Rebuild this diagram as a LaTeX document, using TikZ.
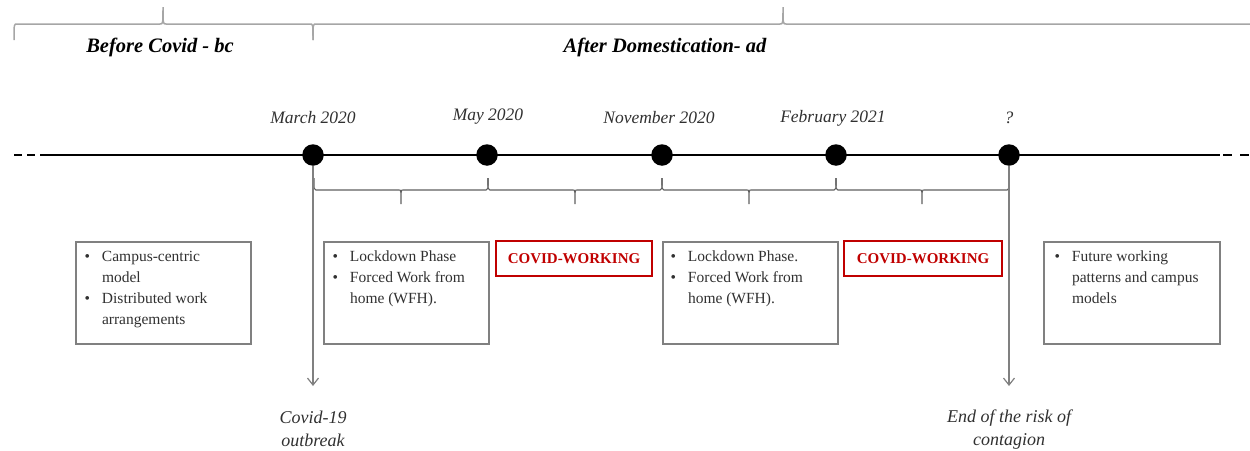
\documentclass[tikz,border=0pt]{standalone}
\usepackage{fontspec}
\setmainfont{Liberation Serif}
\usetikzlibrary{arrows.meta}
\definecolor{cvred}{HTML}{C00000}
\definecolor{boxgray}{HTML}{808080}
\definecolor{txtgray}{HTML}{303030}
\definecolor{topgray}{HTML}{A6A6A6}
\definecolor{lowgray}{HTML}{606060}
\newcommand\tlbrace[8]{%
  \draw[#1] (#2,#5) .. controls (#2,#6) .. ({#2+#8},#6) -- ({#3-#8},#6)
    .. controls (#3,#6) .. (#3,#7) .. controls (#3,#6) .. ({#3+#8},#6)
    -- ({#4-#8},#6) .. controls (#4,#6) .. (#4,#5);}
\newcommand\bul{\makebox[17.5pt][l]{\textbullet}}
\newcommand\ind{\hspace*{17.5pt}}
\tikzset{
  dot/.style={circle, fill=black, minimum size=21.5pt, inner sep=0pt},
  datelbl/.style={font=\fontsize{17.5}{21}\selectfont\itshape, text=txtgray, inner sep=0pt},
  titlelbl/.style={font=\fontsize{20.5}{24}\selectfont\bfseries\itshape, inner sep=0pt},
  infobox/.style={draw=boxgray, line width=1.5pt, minimum width=#1, minimum height=102pt, anchor=north west, inner sep=0pt},
  infotext/.style={anchor=north west, inner sep=0pt, text=txtgray, font=\fontsize{15.5}{21}\selectfont},
  cvbox/.style={draw=cvred, line width=1.5pt, text=cvred, font=\fontsize{15}{18}\selectfont\bfseries, minimum height=35pt, minimum width=#1, inner sep=0pt},
  arr/.style={draw=gray, line width=1.2pt, -{Straight Barb[length=7pt,width=11pt]}},
  notelbl/.style={font=\fontsize{18}{23}\selectfont\itshape, align=center, text=txtgray, inner sep=0pt},
  timeline/.style={line width=2.8pt, black},
  topbrace/.style={draw=topgray, line width=1.5pt},
  lowbrace/.style={draw=lowgray, line width=1.1pt}
}
\begin{document}
\begin{tikzpicture}[x=1pt, y=-1pt]
\useasboundingbox (0,0) rectangle (1250,450);

% top braces and titles
\tlbrace{topbrace}{14}{163}{313}{40}{24}{7}{3}
\tlbrace{topbrace}{313}{783}{1253}{40}{24}{7}{3}
\node[titlelbl] (tbc) at (160,47) {Before Covid - bc};
\node[titlelbl] (tad) at (665,47) {After Domestication- ad};

% timeline
\coordinate (tl0) at (14,155);
\coordinate (tl1) at (42,155);
\coordinate (tl2) at (1220,155);
\coordinate (tl3) at (1250,155);
\draw[timeline, dash pattern=on 8pt off 5pt] (tl0) -- (tl1);
\draw[timeline] (tl1) -- (tl2);
\draw[timeline, dash pattern=on 0pt off 3pt on 9pt off 5pt] (tl2) -- (tl3);

% lower braces
\tlbrace{lowbrace}{314}{401}{488}{178}{190}{204}{2}
\tlbrace{lowbrace}{488}{575}{662}{178}{190}{204}{2}
\tlbrace{lowbrace}{662}{749}{836}{178}{190}{204}{2}
\tlbrace{lowbrace}{836}{922}{1009}{178}{190}{204}{2}

% dots and dates
\node[dot] (d1) at (313,155) {};
\node[dot] (d2) at (487,155) {};
\node[dot] (d3) at (662,155) {};
\node[dot] (d4) at (836,155) {};
\node[dot] (d5) at (1009,155) {};
\node[datelbl] (l1) at (313,118) {March 2020};
\node[datelbl] (l2) at (488,117) {May 2020};
\node[datelbl] (l3) at (659,118) {November 2020};
\node[datelbl] (l4) at (833,118) {February 2021};
\node[datelbl] (l5) at (1009,118) {?};

% arrows and notes
\coordinate (e1) at (313,386);
\coordinate (e5) at (1009,386);
\draw[arr] (d1) -- (e1);
\draw[arr] (d5) -- (e5);
\node[notelbl] (n1) at (313,429) {Covid-19\\outbreak};
\node[notelbl] (n5) at (1009,430) {End of the risk of\\contagion};

% boxes
\node[infobox=175pt] (b1) at (75,241) {};
\node[infotext] (t1) at (84.3,247) {\begin{tabular}{@{}l@{}}\bul Campus-centric\\\ind model\\\bul Distributed work\\\ind arrangements\end{tabular}};
\node[infobox=165pt] (b2) at (323,241) {};
\node[infotext] (t2) at (332.3,247) {\begin{tabular}{@{}l@{}}\bul Lockdown Phase\\\bul Forced Work from\\\ind home (WFH).\end{tabular}};
\node[infobox=175pt] (b3) at (662,241) {};
\node[infotext] (t3) at (670.3,247) {\begin{tabular}{@{}l@{}}\bul Lockdown Phase.\\\bul Forced Work from\\\ind home (WFH).\end{tabular}};
\node[infobox=176pt] (b4) at (1043,241) {};
\node[infotext] (t4) at (1054.3,247) {\begin{tabular}{@{}l@{}}\bul Future working\\\ind patterns and campus\\\ind models\end{tabular}};
\node[cvbox=156pt] (r1) at (574,258.5) {COVID-WORKING};
\node[cvbox=158pt] (r2) at (923,258.5) {COVID-WORKING};
\end{tikzpicture}
\end{document}
